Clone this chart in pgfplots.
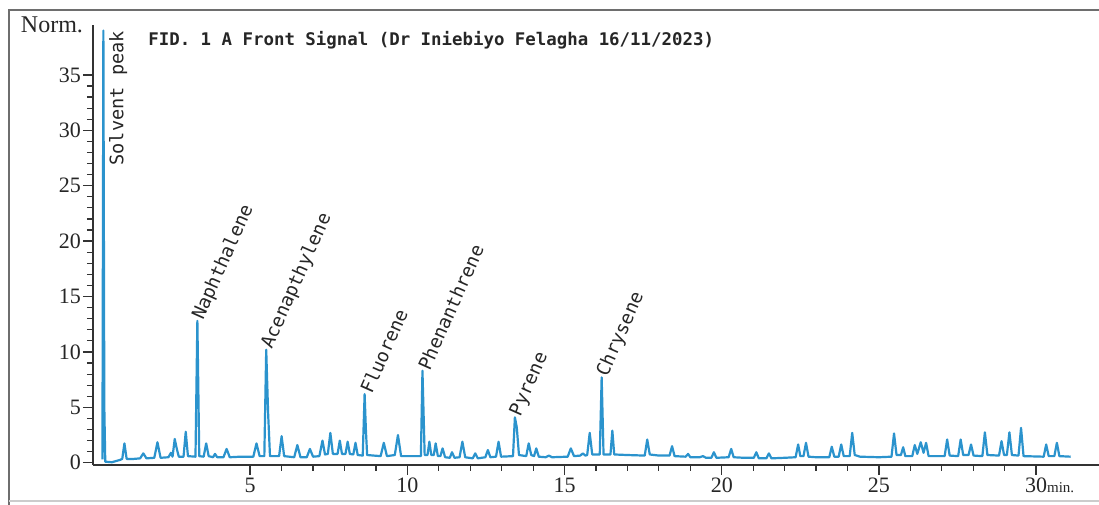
\documentclass[border=0pt]{standalone}
\usepackage{fontspec}
\setmainfont{Liberation Serif}
\newfontfamily\monofont{DejaVu Sans Mono}
\usepackage{pgfplots}
\pgfplotsset{compat=1.18}
\definecolor{trace}{HTML}{2B93CD}
\definecolor{edge}{HTML}{6E6E6E}

\begin{document}
\begin{tikzpicture}
\useasboundingbox (0,0) rectangle (549.5pt,252pt);
\draw[edge, line width=1pt] (4.5pt,-2pt) -- (4.5pt,247pt) -- (552pt,247pt);
\draw[black!20, line width=0.6pt] (4.5pt,1.5pt) -- (552pt,1.5pt);
\begin{axis}[
  at={(46.5pt,19.5pt)}, anchor=south west,
  scale only axis, width=503pt, height=220pt,
  xmin=0, xmax=32, ymin=-0.2, ymax=39.5,
  separate axis lines,
  x axis line style={-, black!80, line width=0.7pt},
  y axis line style={-, black!80, line width=0.7pt},
  axis x line*=bottom, axis y line*=left,
  xtick={5,10,...,30},
  xticklabels={5,10,15,20,25,{30\rlap{\fontsize{7.5}{8}\selectfont min.}}},
  ytick={0,5,...,35},
  minor x tick num=4, minor y tick num=4,
  tick align=outside,
  major tick length=5pt, minor tick length=3pt,
  major tick style={draw=black!80, line width=0.7pt},
  minor tick style={draw=black!80, line width=0.6pt},
  tick label style={font=\fontsize{11}{12}\selectfont, text=black!85},
  xticklabel shift=-2pt, yticklabel shift=-2.5pt,
  /pgf/number format/assume math mode=true,
  clip=false,
]
\addplot[trace, line width=1.1pt, line join=round] table {
0.30 0.3
0.33 39.0
0.36 5.0
0.39 0.1
0.60 0.05
0.85 0.25
0.93 0.35
1.00 1.75
1.07 0.35
1.30 0.35
1.50 0.4
1.60 0.85
1.70 0.4
1.95 0.45
2.05 1.85
2.15 0.45
2.40 0.5
2.48 0.9
2.53 0.55
2.60 2.15
2.67 1.2
2.73 0.55
2.88 0.55
2.95 2.8
3.02 0.6
3.26 0.55
3.32 12.8
3.38 0.6
3.52 0.55
3.60 1.75
3.68 0.6
3.82 0.5
3.88 0.8
3.95 0.5
4.15 0.5
4.25 1.25
4.35 0.5
4.70 0.55
5.10 0.55
5.20 1.75
5.30 0.6
5.45 0.6
5.51 10.2
5.57 4.5
5.63 0.6
5.92 0.6
6.00 2.4
6.08 0.6
6.40 0.5
6.50 1.6
6.60 0.5
6.80 0.5
6.90 1.25
7.00 0.55
7.20 0.6
7.30 2.0
7.38 0.75
7.47 0.8
7.55 2.7
7.63 0.8
7.78 0.8
7.85 2.0
7.92 0.8
8.03 0.8
8.10 1.9
8.17 0.8
8.28 0.75
8.35 1.8
8.42 0.7
8.58 0.65
8.64 6.2
8.68 3.0
8.72 0.7
9.15 0.6
9.25 1.8
9.35 0.6
9.60 0.7
9.70 2.5
9.80 0.6
10.20 0.6
10.43 0.6
10.48 8.3
10.55 0.7
10.64 0.7
10.70 1.9
10.76 0.7
10.84 0.7
10.90 1.75
10.97 0.6
11.05 0.6
11.12 1.3
11.20 0.5
11.35 0.45
11.42 0.95
11.50 0.45
11.66 0.5
11.75 1.9
11.84 0.5
12.08 0.4
12.16 0.85
12.24 0.4
12.48 0.5
12.56 1.15
12.64 0.5
12.82 0.55
12.90 1.9
12.98 0.55
13.36 0.6
13.42 4.1
13.48 3.2
13.55 0.7
13.78 0.6
13.86 1.75
13.94 0.7
14.03 0.6
14.10 1.3
14.18 0.55
14.40 0.5
14.50 0.65
14.60 0.5
15.10 0.55
15.20 1.3
15.30 0.6
15.50 0.65
15.58 0.85
15.66 0.65
15.72 0.7
15.80 2.7
15.88 0.75
16.12 0.75
16.18 7.7
16.24 0.75
16.46 0.75
16.52 2.9
16.58 0.75
17.00 0.7
17.55 0.65
17.63 2.1
17.71 0.75
18.00 0.65
18.34 0.65
18.42 1.5
18.50 0.6
18.85 0.55
18.93 0.8
19.00 0.5
19.30 0.5
19.40 0.6
19.50 0.45
19.67 0.45
19.75 0.95
19.83 0.45
20.22 0.5
20.30 1.25
20.38 0.5
20.70 0.45
21.02 0.45
21.10 0.95
21.18 0.4
21.42 0.4
21.50 0.85
21.58 0.4
22.00 0.45
22.35 0.5
22.43 1.65
22.50 0.6
22.60 0.6
22.68 1.8
22.76 0.55
23.00 0.5
23.42 0.5
23.50 1.45
23.58 0.55
23.72 0.55
23.80 1.65
23.88 0.6
24.07 0.6
24.15 2.7
24.23 0.7
24.40 0.55
25.00 0.5
25.40 0.55
25.48 2.65
25.56 0.7
25.70 0.7
25.77 1.4
25.84 0.6
26.06 0.6
26.14 1.6
26.22 0.8
26.33 1.85
26.42 0.9
26.50 1.8
26.58 0.6
27.09 0.6
27.17 2.1
27.25 0.65
27.52 0.6
27.60 2.1
27.68 0.7
27.85 0.7
27.93 1.65
28.01 0.65
28.29 0.6
28.37 2.75
28.45 0.7
28.82 0.65
28.90 1.95
28.98 0.7
29.07 0.7
29.15 2.75
29.23 0.7
29.44 0.65
29.52 3.15
29.60 0.6
30.24 0.55
30.32 1.65
30.40 0.6
30.58 0.6
30.66 1.8
30.74 0.6
31.10 0.55
};
% axis unit and title
\node[anchor=east, xshift=-1.5pt, font=\fontsize{12}{13}\selectfont, text=black!85] at (rel axis cs:0,1) {Norm.};
\node[anchor=west, font=\monofont\bfseries\fontsize{8.7}{10}\selectfont, text=black!85] at (rel axis cs:0.048,0.966) {FID. 1 A Front Signal (Dr Iniebiyo Felagha 16/11/2023)};
% peak names
\begin{scope}[every node/.style={font=\monofont\fontsize{9.3}{11}\selectfont, text=black!85, inner sep=1pt}]
\node[rotate=90, anchor=west] at (axis cs:0.80,26.6) {Solvent peak};
\node[rotate=66, anchor=west] at (axis cs:3.32,12.8) {Naphthalene};
\node[rotate=66, anchor=west] at (axis cs:5.51,10.2) {Acenapthylene};
\node[rotate=66, anchor=west] at (axis cs:8.64,6.2) {Fluorene};
\node[rotate=66, anchor=west] at (axis cs:10.48,8.3) {Phenanthrene};
\node[rotate=66, anchor=west] at (axis cs:13.42,4.1) {Pyrene};
\node[rotate=66, anchor=west] at (axis cs:16.18,7.7) {Chrysene};
\end{scope}
\end{axis}
\end{tikzpicture}
\end{document}
